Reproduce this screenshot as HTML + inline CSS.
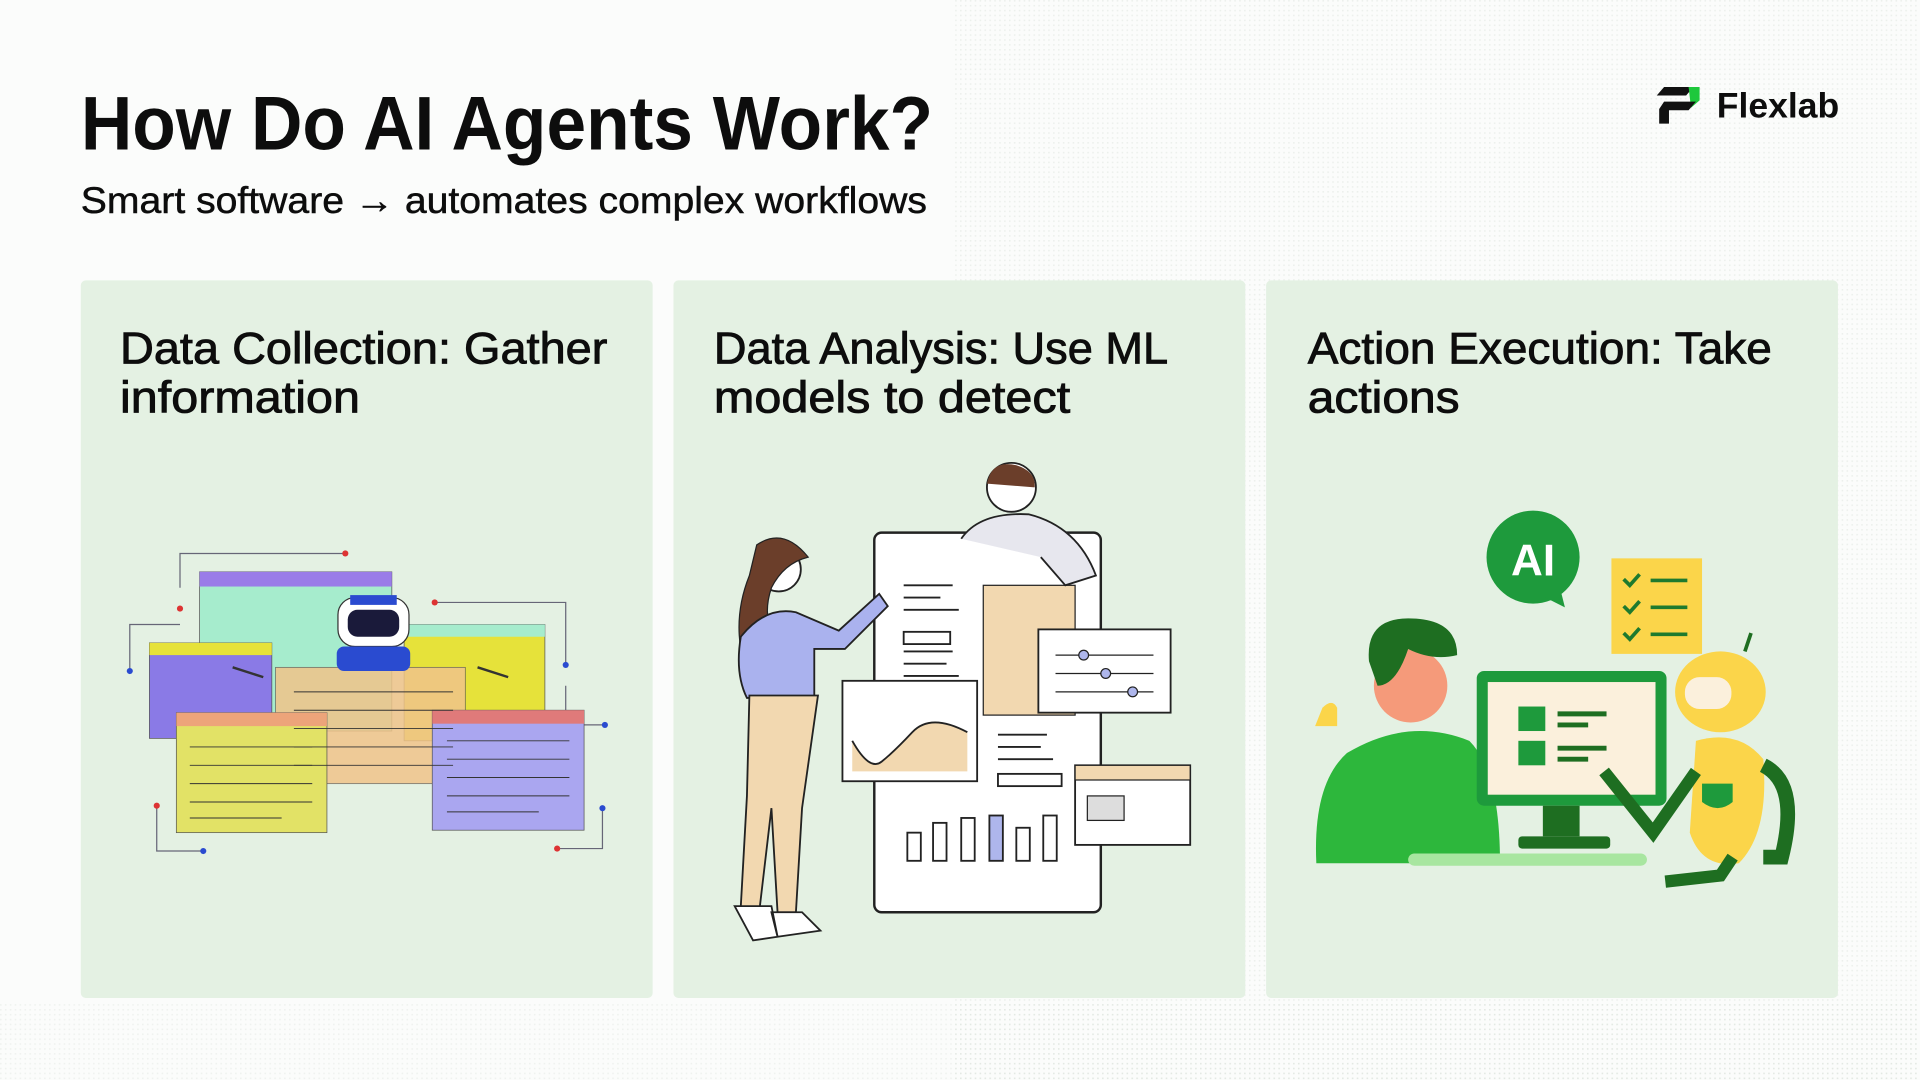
<!DOCTYPE html>
<html><head><meta charset="utf-8"><style>
html,body{margin:0;padding:0;width:1920px;height:1080px;overflow:hidden;background:#fbfcfb}
svg{display:block}
text{font-family:"Liberation Sans",sans-serif;fill:#0d0d0d}
.m{stroke:#0d0d0d;stroke-width:0.7}
.s{stroke:#0d0d0d;stroke-width:0.4}
</style></head><body>
<svg width="1920" height="1080" viewBox="0 0 1568 882" xmlns="http://www.w3.org/2000/svg">
<defs>
<pattern id="dots" width="4" height="4" patternUnits="userSpaceOnUse"><rect width="1.3" height="1.3" fill="#c9d3c9" opacity="0.5"/></pattern>
</defs>
<rect width="1568" height="882" fill="#fbfcfb"/>
<rect x="780" y="0" width="788" height="882" fill="url(#dots)" opacity="0.6"/>
<rect x="0" y="820" width="1568" height="62" fill="url(#dots)" opacity="0.5"/>

<text x="66" y="122" font-size="62" font-weight="bold" textLength="696" lengthAdjust="spacingAndGlyphs">How Do AI Agents Work?</text>
<text class="s" x="66" y="174" font-size="30" textLength="691" lengthAdjust="spacingAndGlyphs">Smart software → automates complex workflows</text>

<g transform="translate(1353,68)">
<path d="M6 3 H30 L24 10 H0 Z" fill="#111"/>
<path d="M26 3 H35 V14 L28 20 Z" fill="#1ec83c"/>
<path d="M6 15 H32 L26 22 H10 V33 L2 33 V21 Z" fill="#111"/>
</g>
<text x="1402" y="96" font-size="29" font-weight="bold" textLength="100" lengthAdjust="spacingAndGlyphs">Flexlab</text>

<rect x="66" y="229" width="467" height="586" rx="4" fill="#e4f1e3"/>
<rect x="550" y="229" width="467" height="586" rx="4" fill="#e4f1e3"/>
<rect x="1034" y="229" width="467" height="586" rx="4" fill="#e4f1e3"/>

<text class="m" x="98" y="297" font-size="36" textLength="398" lengthAdjust="spacingAndGlyphs">Data Collection: Gather</text>
<text class="m" x="98" y="337" font-size="36" textLength="196" lengthAdjust="spacingAndGlyphs">information</text>
<text class="m" x="583" y="297" font-size="36" textLength="371" lengthAdjust="spacingAndGlyphs">Data Analysis: Use ML</text>
<text class="m" x="583" y="337" font-size="36" textLength="291" lengthAdjust="spacingAndGlyphs">models to detect</text>
<text class="m" x="1068" y="297" font-size="36" textLength="379" lengthAdjust="spacingAndGlyphs">Action Execution: Take</text>
<text class="m" x="1068" y="337" font-size="36" textLength="124" lengthAdjust="spacingAndGlyphs">actions</text>

<g stroke-width="1" fill="none" stroke="#667">
<path d="M147 480 V452 H282"/><path d="M106 548 V510 H147"/><path d="M355 492 H462 V543"/>
<path d="M128 658 V695 H166"/><path d="M455 693 H492 V660"/><path d="M462 560 V592 H494"/>
</g>
<g fill="#d33"><circle cx="282" cy="452" r="2.5"/><circle cx="355" cy="492" r="2.5"/><circle cx="128" cy="658" r="2.5"/><circle cx="455" cy="693" r="2.5"/><circle cx="147" cy="497" r="2.5"/></g>
<g fill="#2a4bd0"><circle cx="106" cy="548" r="2.5"/><circle cx="462" cy="543" r="2.5"/><circle cx="166" cy="695" r="2.5"/><circle cx="492" cy="660" r="2.5"/><circle cx="494" cy="592" r="2.5"/></g>
<rect x="163" y="467" width="157" height="130" fill="#a6eccd" stroke="#555" stroke-width="0.6"/>
<rect x="163" y="467" width="157" height="12" fill="#9a7ce8"/>
<rect x="122" y="525" width="100" height="78" fill="#8a7ae6" stroke="#555" stroke-width="0.6"/>
<rect x="122" y="525" width="100" height="10" fill="#e6e23a"/>
<rect x="330" y="510" width="115" height="95" fill="#e6e23a" stroke="#555" stroke-width="0.6"/>
<rect x="330" y="510" width="115" height="10" fill="#a6eccd"/>
<rect x="225" y="545" width="155" height="95" fill="#f0c48a" opacity="0.85" stroke="#555" stroke-width="0.6"/>
<rect x="144" y="582" width="123" height="98" fill="#e2e266" stroke="#555" stroke-width="0.6"/>
<rect x="144" y="582" width="123" height="11" fill="#eda47a"/>
<rect x="353" y="580" width="124" height="98" fill="#aaa6f0" stroke="#555" stroke-width="0.6"/>
<rect x="353" y="580" width="124" height="11" fill="#e07a7a"/>
<g stroke="#333" stroke-width="0.8">
<path d="M155 610H255M155 625H255M155 640H255M155 655H255M155 668H230"/>
<path d="M365 605H465M365 620H465M365 635H465M365 650H465M365 663H440"/>
<path d="M240 565H370M240 580H370M240 595H370M240 610H370M240 625H370"/>
</g>
<rect x="276" y="488" width="58" height="40" rx="14" fill="#fff" stroke="#333"/>
<rect x="284" y="498" width="42" height="22" rx="8" fill="#1a1a3a"/>
<rect x="286" y="486" width="38" height="8" fill="#2a4bd0"/>
<rect x="275" y="528" width="60" height="20" rx="6" fill="#2a4bd0"/>
<path d="M190 545 l25 8 M390 545 l25 8" stroke="#333" stroke-width="2"/>

<rect x="714" y="435" width="185" height="310" rx="6" fill="#fff" stroke="#222" stroke-width="2"/>
<rect x="803" y="478" width="75" height="106" fill="#f2d8b0" stroke="#222"/>
<g stroke="#222" stroke-width="1.5"><path d="M738 478h40M738 488h30M738 498h45M738 532h40M738 542h35M738 552h45M815 600h40M815 610h35M815 620h45"/>
<rect x="738" y="516" width="38" height="10" fill="none"/><rect x="815" y="632" width="52" height="10" fill="none"/></g>
<g fill="#fff" stroke="#222" stroke-width="1.5"><rect x="741" y="680" width="11" height="23"/><rect x="762" y="672" width="11" height="31"/><rect x="785" y="668" width="11" height="35"/><rect x="808" y="666" width="11" height="37" fill="#aeb6ec"/><rect x="830" y="676" width="11" height="27"/><rect x="852" y="666" width="11" height="37"/></g>
<rect x="688" y="556" width="110" height="82" fill="#fff" stroke="#222" stroke-width="1.5"/>
<path d="M696 605 Q710 630 720 622 T745 598 T790 598 V630 H696 Z" fill="#f2d8b0"/>
<path d="M696 605 Q710 630 720 622 T745 598 T790 598" stroke="#222" fill="none" stroke-width="1.5"/>
<rect x="848" y="514" width="108" height="68" fill="#fff" stroke="#222" stroke-width="1.5"/>
<path d="M862 535h80M862 550h80M862 565h80" stroke="#222"/>
<g fill="#aeb6ec" stroke="#222"><circle cx="885" cy="535" r="4"/><circle cx="903" cy="550" r="4"/><circle cx="925" cy="565" r="4"/></g>
<rect x="878" y="625" width="94" height="65" fill="#fff" stroke="#222" stroke-width="1.5"/>
<rect x="878" y="625" width="94" height="12" fill="#f2d8b0" stroke="#222"/>
<rect x="888" y="650" width="30" height="20" fill="#ddd" stroke="#222"/>
<circle cx="826" cy="398" r="20" fill="#fff" stroke="#222" stroke-width="1.5"/>
<path d="M806 395 Q810 375 830 380 Q846 385 845 398" fill="#6b3e2a"/>
<path d="M785 440 Q800 418 840 420 Q880 430 895 470 L870 478 L850 455" fill="#e7e7ee" stroke="#222" stroke-width="1.5"/>
<circle cx="636" cy="465" r="18" fill="#fff" stroke="#222" stroke-width="1.5"/>
<path d="M618 445 Q640 430 660 455 Q640 460 630 480 Q620 510 640 530 L605 530 Q600 500 612 470 Z" fill="#6b3e2a" stroke="#222"/>
<path d="M605 520 Q625 495 650 500 L685 515 L718 485 L725 495 L690 530 L665 530 L665 570 L610 570 Q600 550 605 520Z" fill="#aab2ee" stroke="#222" stroke-width="1.5"/>
<path d="M612 568 L668 568 L655 660 L650 745 L635 745 L630 660 L620 745 L605 740 L610 650 Z" fill="#f2d8b0" stroke="#222" stroke-width="1.5"/>
<path d="M600 740 l30 0 l5 25 l-20 3 Z M630 745 l25 0 l15 15 l-35 5Z" fill="#fff" stroke="#222" stroke-width="1.5"/>

<circle cx="1252" cy="455" r="38" fill="#1e9a3c"/>
<path d="M1262 488 l16 8 l-4 -16 Z" fill="#1e9a3c"/>
<text x="1252" y="470" font-size="36" font-weight="bold" text-anchor="middle" style="fill:#fff">AI</text>
<rect x="1316" y="456" width="74" height="78" fill="#fbd54a"/>
<g stroke="#1e7a2e" stroke-width="3" fill="none"><path d="M1326 473l5 5 8-9M1326 495l5 5 8-9M1326 517l5 5 8-9"/><path d="M1348 474h30M1348 496h30M1348 518h30"/></g>
<path d="M1075 705 Q1072 640 1100 615 Q1150 585 1200 605 Q1225 630 1225 705 Z" fill="#2db73c"/>
<circle cx="1152" cy="560" r="30" fill="#f59a7a"/>
<path d="M1118 540 Q1115 505 1150 505 Q1190 505 1190 535 Q1170 540 1150 530 Q1140 560 1125 560 Z" fill="#1e6e21"/>
<rect x="1206" y="548" width="155" height="110" rx="6" fill="#1e9a3c"/>
<rect x="1215" y="557" width="137" height="92" fill="#fbf0dc"/>
<rect x="1260" y="658" width="30" height="25" fill="#1e6e21"/>
<rect x="1240" y="683" width="75" height="10" rx="3" fill="#1e6e21"/>
<rect x="1240" y="577" width="22" height="20" fill="#1e9a3c"/><rect x="1240" y="605" width="22" height="20" fill="#1e9a3c"/>
<path d="M1272 583h40M1272 592h25M1272 611h40M1272 620h25" stroke="#1e6e21" stroke-width="4"/>
<rect x="1150" y="697" width="195" height="10" rx="5" fill="#a8e6a0"/>
<ellipse cx="1405" cy="565" rx="37" ry="33" fill="#fbd54a"/>
<rect x="1376" y="553" width="38" height="26" rx="12" fill="#fbf0dc"/>
<path d="M1425 532 l5 -15" stroke="#1e6e21" stroke-width="3"/>
<path d="M1385 605 Q1420 595 1440 620 Q1445 680 1420 705 Q1390 710 1380 680 Z" fill="#fbd54a"/>
<path d="M1390 640 h25 v15 q-12 10 -25 0Z" fill="#1e9a3c"/>
<path d="M1440 625 Q1470 640 1455 700 L1440 700" stroke="#1e6e21" stroke-width="12" fill="none"/>
<path d="M1385 630 L1350 680 L1310 630" stroke="#1e6e21" stroke-width="10" fill="none"/>
<path d="M1415 700 L1405 715 L1360 720" stroke="#1e6e21" stroke-width="10" fill="none"/>
<path d="M1080 578 q8 -8 12 0 v15 h-18Z" fill="#fbd54a"/>
</svg>
</body></html>
